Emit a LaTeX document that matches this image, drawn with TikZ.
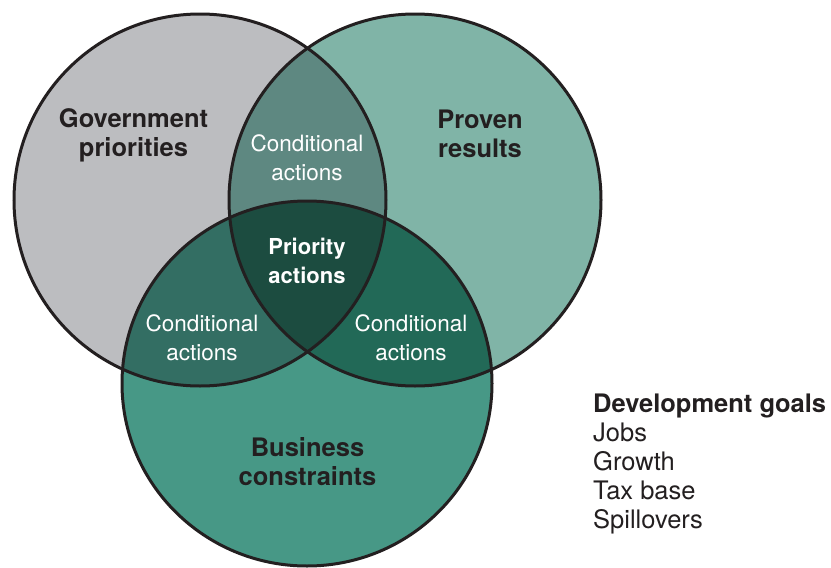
\documentclass[tikz,border=0pt]{standalone}
\usepackage{fontspec}
\setmainfont{TeX Gyre Heros}
\begin{document}
\definecolor{govgray}{HTML}{BCBDC0}
\definecolor{provengreen}{HTML}{80B4A7}
\definecolor{bizgreen}{HTML}{479886}
\definecolor{lenstop}{HTML}{5E8881}
\definecolor{lensleft}{HTML}{336E63}
\definecolor{lensright}{HTML}{226957}
\definecolor{core}{HTML}{1C4C40}
\definecolor{ink}{HTML}{231F20}
\begin{tikzpicture}[x=1pt,y=-1pt,
  ring/.style={draw=ink,line width=3pt},
  title/.style={text=ink,font=\fontsize{25.5}{29}\selectfont\bfseries,align=center,inner sep=0pt},
  cond/.style={text=white,font=\fontsize{22.5}{29}\selectfont,align=center,inner sep=0pt},
  prio/.style={text=white,font=\fontsize{22}{29}\selectfont\bfseries,align=center,inner sep=0pt},
  legend/.style={text=ink,font=\fontsize{25.5}{29}\selectfont,align=left,anchor=north west,inner sep=0pt}]
\useasboundingbox (0,0) rectangle (831,568);

% circle centres
\coordinate (gov) at (200,200);
\coordinate (pro) at (415,200);
\coordinate (biz) at (307,383.5);

\def\govpath{(gov) circle [radius=186]}
\def\propath{(pro) circle [radius=186]}
\def\bizpath{(biz) ellipse [x radius=185, y radius=182.5]}

% base fills
\fill[govgray] \govpath;
\fill[provengreen] \propath;
\fill[bizgreen] \bizpath;

% pairwise overlaps
\begin{scope}
  \clip \govpath;
  \fill[lenstop] \propath;
  \fill[lensleft] \bizpath;
\end{scope}
\begin{scope}
  \clip \propath;
  \fill[lensright] \bizpath;
\end{scope}
% triple overlap
\begin{scope}
  \clip \govpath;
  \clip \propath;
  \fill[core] \bizpath;
\end{scope}

% outlines
\draw[ring] \govpath;
\draw[ring] \propath;
\draw[ring] \bizpath;

% labels
\node[title] (govlbl) at (133.5,135) {Government\\priorities};
\node[title] (prolbl) at (480,134) {Proven\\results};
\node[title] (bizlbl) at (307.5,462) {Business\\constraints};
\node[cond] (condtop) at (307,158) {Conditional\\actions};
\node[cond] (condleft) at (202,338) {Conditional\\actions};
\node[cond] (condright) at (411,338) {Conditional\\actions};
\node[prio] (priority) at (307,261) {Priority\\actions};

\node[legend] (goals) at (593,394) {\textbf{Development goals}\\Jobs\\Growth\\Tax base\\Spillovers};
\end{tikzpicture}
\end{document}
